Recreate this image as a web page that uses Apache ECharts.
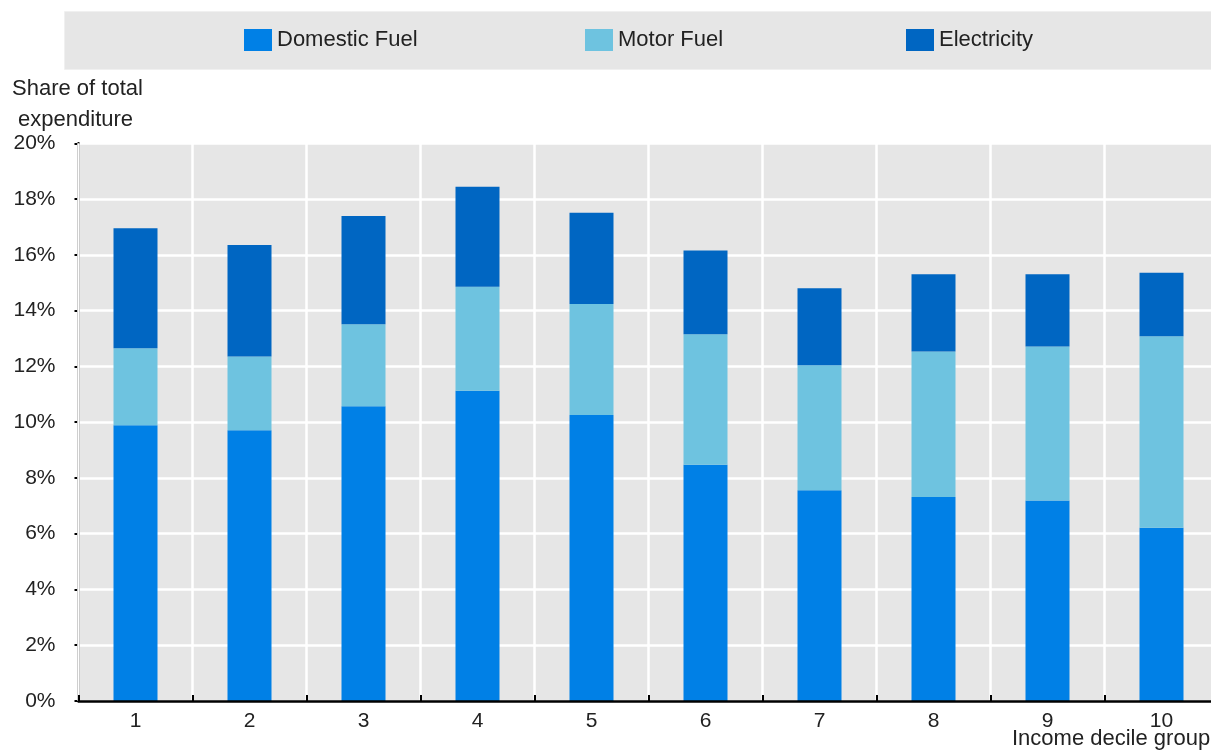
<!DOCTYPE html>
<html>
<head>
<meta charset="utf-8">
<script src="https://cdn.jsdelivr.net/npm/echarts@6/dist/echarts.min.js"></script>
<style>
  html, body { margin: 0; padding: 0; background: #ffffff; }
  #chart { width: 1211px; height: 752px; }
</style>
</head>
<body>
<div id="chart"></div>
<script>
// Energy expenditure share by income decile group
const deciles = ['1', '2', '3', '4', '5', '6', '7', '8', '9', '10'];
const domesticFuel = [9.89, 9.71, 10.57, 11.13, 10.26, 8.47, 7.56, 7.32, 7.19, 6.21];
const motorFuel = [2.76, 2.64, 2.94, 3.73, 3.98, 4.68, 4.48, 5.21, 5.52, 6.87];
const electricity = [4.30, 4.00, 3.88, 3.58, 3.27, 3.01, 2.76, 2.77, 2.59, 2.28];
const seriesNames = ['Domestic Fuel', 'Motor Fuel', 'Electricity'];
const yTicks = { min: 0, max: 20, interval: 2 };

const colors = ['#0080e6', '#6ec3e0', '#0066c2'];
const FONT = '"Liberation Sans", Arial, sans-serif';
const textColor = '#222222';

const chart = echarts.init(document.getElementById('chart'), null, { renderer: 'canvas' });

function legendAt(name, left) {
  return {
    data: [name],
    left: left,
    top: 27,
    padding: 0,
    itemWidth: 28,
    itemHeight: 22,
    itemGap: 0,
    icon: 'rect',
    selectedMode: false,
    textStyle: { fontFamily: FONT, fontSize: 22, color: textColor, lineHeight: 26 }
  };
}

const seriesData = [domesticFuel, motorFuel, electricity];

chart.setOption({
  backgroundColor: '#ffffff',
  animation: false,
  color: colors,
  graphic: [
    {
      type: 'rect',
      left: 64, top: 11,
      shape: { width: 1160, height: 58 },
      style: { fill: '#e6e6e6', stroke: '#f0f0f0', lineWidth: 1 },
      z: -1
    },
    {
      type: 'text',
      x: 12, y: 73,
      style: {
        text: 'Share of total\n expenditure',
        fontFamily: FONT, fontSize: 22, lineHeight: 31,
        fill: textColor
      }
    },
    {
      type: 'text',
      x: 1012, y: 728,
      style: {
        text: 'Income decile group',
        fontFamily: FONT, fontSize: 22,
        fill: textColor
      }
    }
  ],
  legend: [
    legendAt(seriesNames[0], 244),
    legendAt(seriesNames[1], 585),
    legendAt(seriesNames[2], 906)
  ],
  grid: {
    left: 78.5,
    top: 143.3,
    width: 1140,
    bottom: 51,
    outerBoundsMode: 'none',
    containLabel: false,
    show: true,
    backgroundColor: '#e6e6e6',
    borderWidth: 0
  },
  xAxis: {
    type: 'category',
    data: deciles,
    boundaryGap: true,
    axisLine: { show: true, lineStyle: { color: '#000000', width: 2.5 } },
    axisTick: { show: true, inside: true, length: 6, lineStyle: { color: '#000000', width: 2 } },
    axisLabel: { fontFamily: FONT, fontSize: 21, color: textColor, margin: 10 },
    splitLine: { show: true, lineStyle: { color: '#ffffff', width: 2.5 } },
    z: 5
  },
  yAxis: {
    type: 'value',
    min: yTicks.min,
    max: yTicks.max,
    interval: yTicks.interval,
    axisLine: { show: true, lineStyle: { color: '#000000', width: 2.5 } },
    axisTick: { show: true, inside: false, length: 4, lineStyle: { color: '#000000', width: 2 } },
    axisLabel: {
      fontFamily: FONT, fontSize: 21, color: textColor, margin: 23,
      formatter: '{value}%'
    },
    splitLine: { show: true, lineStyle: { color: '#ffffff', width: 2.5 } }
  },
  series: seriesNames.map((name, i) => ({
    name: name,
    type: 'bar',
    stack: 'total',
    barWidth: 44,
    data: seriesData[i],
    itemStyle: { color: colors[i] },
    z: 3
  }))
});
</script>
</body>
</html>
